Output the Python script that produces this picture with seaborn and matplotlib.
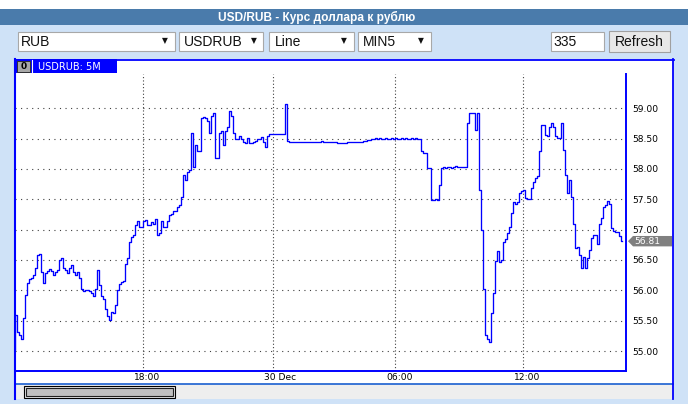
import numpy as np
import pandas as pd
import matplotlib
matplotlib.use("Agg")
import matplotlib.pyplot as plt
import seaborn as sns
from matplotlib.patches import Rectangle, Polygon
from matplotlib.lines import Line2D
from matplotlib.transforms import ScaledTranslation, blended_transform_factory

# ---------------- data ----------------
title = "USD/RUB - Курс доллара к рублю"
series_label = "USDRUB: 5M"
dropdowns = ["RUB", "USDRUB", "Line", "MIN5"]
bars_count = "335"
button_label = "Refresh"
x_tick_labels = ["18:00", "30 Dec", "06:00", "12:00"]
x_tick_pos = [64.65, 129.65, 190.65, 254.65]
y_ticks = [55.0, 55.5, 56.0, 56.5, 57.0, 57.5, 58.0, 58.5, 59.0]
last_price = 56.81

close_a = [55.02, 55.6, 55.32, 55.26, 55.2, 55.54, 55.92, 56.12, 56.18, 56.21,
           56.25, 56.36, 56.58, 56.6, 56.3, 56.12, 56.29, 56.32, 56.35, 56.32,
           56.25, 56.3, 56.34, 56.5, 56.54, 56.36, 56.34, 56.28, 56.36, 56.42,
           56.3, 56.25, 56.3, 56.2, 56.02, 55.99, 56.0, 56.0, 55.99, 55.95,
           55.9, 56.03, 56.34, 56.09, 55.9, 55.86, 55.7, 55.58, 55.51, 55.65]
close_b = [55.62, 55.76, 56.0, 56.1, 56.13, 56.15, 56.44, 56.53, 56.8, 56.88,
           56.91, 57.08, 57.14, 57.05, 57.05, 57.14, 57.16, 57.07, 57.08, 57.12,
           57.1, 57.18, 56.91, 56.94, 57.14, 57.05, 57.05, 57.14, 57.24, 57.25,
           57.3, 57.31, 57.38, 57.41, 57.54, 57.9, 57.82, 57.95, 57.98, 58.6,
           58.04, 58.4, 58.29, 58.29, 58.84, 58.85, 58.84, 58.79, 58.6, 58.88]
close_c = [58.92, 58.18, 58.18, 58.6, 58.62, 58.4, 58.62, 58.7, 58.95, 58.88,
           58.59, 58.49, 58.5, 58.55, 58.5, 58.45, 58.43, 58.51, 58.43, 58.42,
           58.44, 58.46, 58.49, 58.5, 58.53, 58.45, 58.36, 58.55, 58.57, 58.58,
           58.58, 58.58, 58.58, 58.58, 58.58, 58.58, 59.07, 58.46, 58.45, 58.44,
           58.45, 58.44, 58.45, 58.44, 58.45, 58.45, 58.44, 58.45, 58.44, 58.45]
close_d = [58.45, 58.44, 58.45, 58.45, 58.46, 58.45, 58.44, 58.45, 58.45, 58.44,
           58.44, 58.44, 58.43, 58.43, 58.42, 58.43, 58.42, 58.44, 58.44, 58.44,
           58.45, 58.44, 58.44, 58.45, 58.45, 58.46, 58.46, 58.47, 58.48, 58.49,
           58.5, 58.51, 58.5, 58.51, 58.5, 58.5, 58.51, 58.5, 58.5, 58.51,
           58.5, 58.51, 58.5, 58.5, 58.51, 58.5, 58.51, 58.5, 58.5, 58.51]
close_e = [58.5, 58.51, 58.5, 58.5, 58.29, 58.27, 58.27, 58.02, 58.02, 57.49,
           57.49, 57.5, 57.49, 57.74, 58.01, 58.03, 58.02, 58.03, 58.03, 58.02,
           58.03, 58.05, 58.04, 58.04, 58.04, 58.04, 58.04, 58.75, 58.93, 58.93,
           58.93, 58.64, 58.93, 57.65, 57.0, 56.03, 55.26, 55.2, 55.15, 55.62,
           55.95, 56.48, 56.64, 56.47, 56.5, 56.8, 56.84, 56.94, 57.05, 57.27]
close_f = [57.46, 57.42, 57.46, 57.6, 57.64, 57.65, 57.52, 57.5, 57.5, 57.69,
           57.78, 57.85, 57.89, 58.3, 58.73, 58.73, 58.56, 58.55, 58.7, 58.75,
           58.7, 58.55, 58.51, 58.51, 58.76, 58.31, 57.9, 57.6, 57.82, 57.54,
           57.1, 56.69, 56.72, 56.58, 56.36, 56.55, 56.37, 56.53, 56.66, 56.87,
           56.91, 56.91, 56.77, 57.1, 57.19, 57.38, 57.41, 57.47, 57.43, 57.03,
           56.98, 56.96, 56.96, 56.9, 56.81]

rates = close_a + close_b + close_c + close_d + close_e + close_f
df = pd.DataFrame({"bar": np.arange(len(rates)), "rate": rates})

# ---------------- figure ----------------
W, H = 688, 404
fig = plt.figure(figsize=(W / 100, H / 100), dpi=100)
LIGHT = "#cfe2f7"
fig.patch.set_facecolor(LIGHT)


def box(x0, y0, x1, y1, fc, ec="none", lw=0.0, z=-5):
    r = Rectangle((x0 / W, 1 - y1 / H), (x1 - x0) / W, (y1 - y0) / H,
                  transform=fig.transFigure, facecolor=fc, edgecolor=ec,
                  linewidth=lw, zorder=z)
    fig.add_artist(r)
    return r


def hline(x0, x1, y, color, lw=1.2, z=4):
    fig.add_artist(Line2D([x0 / W, x1 / W], [1 - y / H, 1 - y / H],
                          transform=fig.transFigure, color=color, lw=lw, zorder=z))


def vline(x, y0, y1, color, lw=1.2, z=4):
    fig.add_artist(Line2D([x / W, x / W], [1 - y0 / H, 1 - y1 / H],
                          transform=fig.transFigure, color=color, lw=lw, zorder=z))


def ftext(x, y, s, **kw):
    kw.setdefault("zorder", 6)
    fig.text(x / W, 1 - y / H, s, **kw)


# top strip + title bar
box(0, 0, W, 9, "white")
box(0, 9, W, 25, "#4a7bab")
ftext(317, 17, title, color="white", fontsize=8.6, fontweight="bold",
      family="Liberation Sans", ha="center", va="center")

# controls
ctrl_boxes = [(17.5, 174.6, 21, 164.5), (179.4, 263, 184, 253.5),
              (269, 353.5, 275, 344), (358.3, 430.7, 363, 421)]
for label, (x0, x1, tx, ax_) in zip(dropdowns, ctrl_boxes):
    box(x0, 32, x1, 50.7, "white", ec="#a8a8a8", lw=0.8, z=-4)
    ftext(tx, 41.8, label, color="#111111", fontsize=10, family="Liberation Sans",
          ha="left", va="center")
    ftext(ax_, 41, "▼", color="#111111", fontsize=5.5, family="DejaVu Sans",
          ha="center", va="center")
box(551, 32, 604, 50.7, "white", ec="#a8a8a8", lw=0.8, z=-4)
ftext(553.5, 41.8, bars_count, color="#111111", fontsize=10,
      family="Liberation Sans", ha="left", va="center")
box(609, 31.5, 670, 51.5, "#e8e8e8", ec="#a0a0a0", lw=0.8, z=-4)
ftext(639.5, 41.8, button_label, color="#111111", fontsize=10,
      family="Liberation Sans", ha="center", va="center")

# chart panel
box(14.5, 59.3, 673, 399, "white", z=-4)
BLUE = "#0000ff"
hline(14.5, 673.5, 59.8, BLUE, lw=1.3)
vline(673, 59.3, 399, BLUE, lw=1.3)
vline(14.7, 59.3, 399, BLUE, lw=1.5)

# scrollbar
box(14.5, 384, 673, 399, "#eeeeee", z=-3)
hline(14.5, 673, 384.2, "#1a5fd0", lw=1.2, z=2)
box(24, 386, 175, 397.5, "#e6e6e6", ec="black", lw=0.8, z=-2)
box(26, 388, 173, 395.5, "#c0c0c0", ec="#202020", lw=0.8, z=-1)

# header of series
box(14.7, 59.3, 117, 73.3, BLUE, z=5)
box(16.8, 61.2, 30.2, 72, "#a8a8a8", ec="#303030", lw=0.7, z=6)
ftext(23.5, 66.8, "0", color="black", fontsize=6.5, fontweight="bold",
      ha="center", va="center", zorder=7)
vline(31.8, 60, 73, "white", lw=0.8, z=7)
ftext(38, 66.8, series_label, color="white", fontsize=7, ha="left", va="center",
      zorder=7)

# axes
ax = fig.add_axes([14.7 / W, 1 - 370.7 / H, (626.3 - 14.7) / W, (370.7 - 73.5) / H])
ax.set_facecolor("white")
sns.lineplot(data=df, x="bar", y="rate", ax=ax, color=BLUE, linewidth=0.95,
             legend=False, zorder=3, drawstyle="steps-mid")
ax.set_xlabel("")
ax.set_ylabel("")
ax.set_xlim((14.7 - 14) / 2, (626.3 - 14) / 2)
ax.set_ylim(55 - (370.7 - 351) / 60.68, 59 + (108.3 - 73.5) / 60.68)

for s in ["left", "right", "bottom"]:
    ax.spines[s].set_color(BLUE)
    ax.spines[s].set_linewidth(1.4)
ax.spines["top"].set_visible(False)

ax.set_xticks(x_tick_pos)
ax.set_xticklabels(x_tick_labels)
ax.yaxis.tick_right()
ax.set_yticks(y_ticks)
ax.set_yticklabels([f"{v:.2f}" for v in y_ticks])
ax.tick_params(axis="both", length=0, labelsize=6.6, colors="black")
ax.tick_params(axis="x", pad=2)
ax.tick_params(axis="y", pad=4)
off = ScaledTranslation(-9 / 100, 0, fig.dpi_scale_trans)
for lab in ax.get_xticklabels():
    lab.set_horizontalalignment("left")
    lab.set_transform(lab.get_transform() + off)

ax.xaxis.grid(True, linestyle=(0, (1, 2)), color="#404040", linewidth=0.8)
ax.yaxis.grid(True, linestyle=(0, (1, 4)), color="#404040", linewidth=0.8)
ax.set_axisbelow(True)

# last price tag
tr = blended_transform_factory(ax.transAxes, ax.transData)
axw = 626.3 - 14.7
hh = 5.2 / 60.68
xa = (628 - 14.7) / axw
xb = (633 - 14.7) / axw
xc = (672 - 14.7) / axw
tag = Polygon([(xa, last_price), (xb, last_price + hh), (xc, last_price + hh),
               (xc, last_price - hh), (xb, last_price - hh)], closed=True,
              transform=tr, facecolor="#808080", edgecolor="none", clip_on=False,
              zorder=8)
ax.add_patch(tag)
ax.text((634 - 14.7) / axw, last_price, f"{last_price:.2f}", transform=tr,
        color="white", fontsize=6.6, ha="left", va="center", clip_on=False,
        zorder=9)

fig.savefig("out.png", dpi=100, facecolor=fig.get_facecolor())
